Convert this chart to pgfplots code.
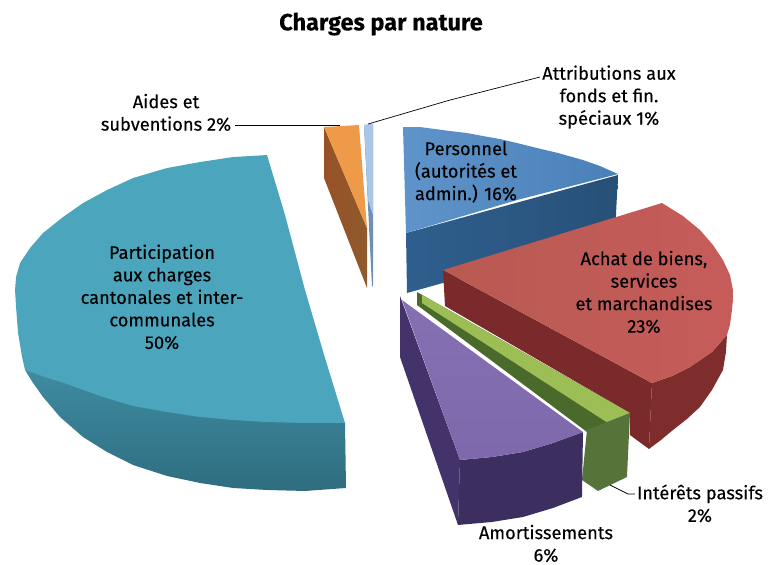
\documentclass[border=0pt]{standalone}
\usepackage{fontspec}
\usepackage{pgfplots}
\pgfplotsset{compat=1.18}
\setmainfont[FakeBold=0.2]{Fira Sans}
\definecolor{tealA}{HTML}{4BA6BD}
\definecolor{tealB}{HTML}{3E8BA0}
\definecolor{tealC}{HTML}{2F6D80}
\definecolor{blueA}{HTML}{4A80B8}
\definecolor{blueB}{HTML}{5F94CA}
\definecolor{blueC}{HTML}{2F5F8E}
\definecolor{blueD}{HTML}{275078}
\definecolor{redA}{HTML}{B85A52}
\definecolor{redB}{HTML}{C65C5A}
\definecolor{redC}{HTML}{7A2A2B}
\definecolor{redD}{HTML}{7E2C2C}
\definecolor{greenA}{HTML}{9DBD55}
\definecolor{greenB}{HTML}{4A6A2C}
\definecolor{greenC}{HTML}{56743A}
\definecolor{purA}{HTML}{8570B4}
\definecolor{purB}{HTML}{44336A}
\definecolor{purC}{HTML}{3C2F60}
\definecolor{orA}{HTML}{EE9A48}
\definecolor{orB}{HTML}{8E5A2C}
\definecolor{skyA}{HTML}{A9C6E6}
\definecolor{skyB}{HTML}{6F8FB5}
\tikzset{lab/.style={align=center,font=\fontsize{18.3}{22.5}\selectfont,text=black,inner sep=0pt}}
\begin{document}
\begin{tikzpicture}
\begin{axis}[
  width=782pt,height=564pt,scale only axis,
  xmin=0,xmax=782,ymin=0,ymax=564,y dir=reverse,
  hide axis,clip=false,
  every axis plot/.append style={no markers,draw=none,line join=round}]
% page frame
\addplot[draw=white,line width=0.1pt] coordinates {(0,0)(782,0)(782,564)(0,564)(0,0)};
% teal
\addplot[top color=tealB,bottom color=tealC] coordinates {(25,370)(33,383)(43,397)(60,417)(83,437)(107,452)(133,465)(167,476)(200,483)(233,488)(267,490)(305,491)(346,488)(345,423)(25,370)};
\addplot[fill=tealA] coordinates {(345,423)(325,358)(305,290)(285,215)(267,155)(233,157)(200,162)(167,168)(133,178)(107,190)(83,203)(63,217)(43,233)(30,248)(20,263)(16,277)(15,290)(16,307)(18,333)(22,357)(25,370)(45,377)(67,384)(100,396)(133,406)(167,412)(200,417)(233,420)(267,422)(305,423)(345,423)};
% orange
\addplot[left color=orB!90!red,right color=orB] coordinates {(324,127)(367,228)(367,288)(324,178)(324,127)};
\addplot[fill=orA] coordinates {(324,127)(359,125)(367,228)(324,127)};
% sky
\addplot[fill=skyB] coordinates {(364,125)(373,124)(373,285)(372,287)(364,125)};
\addplot[fill=skyA] coordinates {(364,125)(373,124)(373,215)(368,200)(364,125)};
% blue
\addplot[left color=blueC,right color=blueD] coordinates {(406,233)(618,175)(615,235)(407,293)(406,233)};
\addplot[left color=blueB,right color=blueA] coordinates {(403,127)(420,127)(435,129)(450,131)(467,133)(483,136)(500,139)(517,143)(533,147)(558,153)(583,160)(600,166)(618,174)(517,200)(406,233)(403,127)};
% red
\addplot[fill=redC] coordinates {(443,270)(652,383)(649,449)(630,435)(630,413)(445,306)(443,270)};
\addplot[fill=redD] coordinates {(652,383)(672,376)(690,367)(712,352)(727,335)(726,352)(723,370)(712,390)(700,407)(687,419)(673,430)(661,440)(649,449)(652,383)};
\addplot[left color=redA,right color=redB] coordinates {(443,270)(662,203)(683,216)(700,230)(713,245)(723,260)(730,275)(733,290)(733,300)(732,310)(730,325)(727,335)(712,352)(690,367)(672,376)(652,383)(443,270)};
% green
\addplot[fill=greenB] coordinates {(417,292)(630,413)(610,427)(587,432)(417,305)(417,292)};
\addplot[fill=greenA] coordinates {(422,295)(630,413)(608,423)(422,303)(422,295)};
\addplot[fill=greenC] coordinates {(587,430)(630,413)(627,477)(598,491)(582,480)(587,430)};
% purple
\addplot[fill=purB] coordinates {(400,296)(460,460)(458,525)(400,357)(400,296)};
\addplot[fill=purC] coordinates {(460,460)(492,457)(523,452)(553,443)(583,432)(582,497)(553,508)(523,517)(492,522)(458,525)(460,460)};
\addplot[top color=purA,bottom color=purA!88!purB] coordinates {(402,300)(583,432)(553,443)(523,452)(492,457)(460,460)(402,300)};
% leaders
\addplot[draw=black,line width=0.7pt] coordinates {(235,125)(340,125)};
\addplot[draw=black,line width=0.7pt] coordinates {(368,124)(450,100)(540,77)};
\addplot[draw=black,line width=0.7pt] coordinates {(610,485)(628,494)(635,494)};
% text
\node[font=\fontsize{23.5}{26}\selectfont\bfseries,inner sep=0pt] at (axis cs:381,24) {Charges par nature};
\node[lab] at (axis cs:609,97) {Attributions aux\\fonds et fin.\\spéciaux 1\%};
\node[lab] at (axis cs:166,112.5) {Aides et\\subventions 2\%};
\node[lab] at (axis cs:466,172) {Personnel\\(autorités et\\admin.) 16\%};
\node[lab] at (axis cs:644,292) {Achat de biens,\\services\\et marchandises\\23\%};
\node[lab] at (axis cs:162,297) {Participation\\aux charges\\cantonales et inter-\\communales\\50\%};
\node[lab] at (axis cs:700,503.5) {Intérêts passifs\\2\%};
\node[lab] at (axis cs:546,543.5) {Amortissements\\6\%};
\end{axis}
\end{tikzpicture}
\end{document}
